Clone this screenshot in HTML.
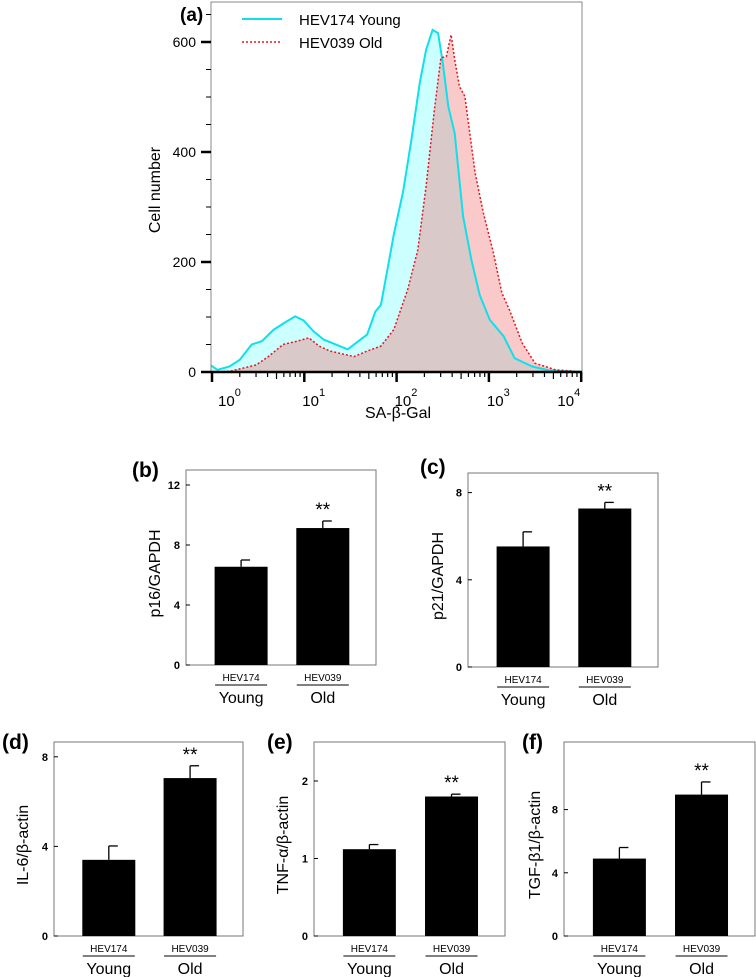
<!DOCTYPE html>
<html><head><meta charset="utf-8">
<style>
html,body{margin:0;padding:0;background:#fff;}
svg{display:block;font-family:"Liberation Sans",Arial,sans-serif;}
</style></head>
<body>
<svg id="fig" width="756" height="977" viewBox="0 0 756 977" xmlns="http://www.w3.org/2000/svg"></svg>
<script>
// ---------- Histogram data (panel a) ----------
const youngLog = [-0.02,0.06,0.19,0.30,0.43,0.54,0.67,0.79,0.90,0.99,1.10,1.21,1.30,1.47,1.57,1.68,1.77,1.83,1.90,1.97,2.07,2.16,2.25,2.32,2.39,2.45,2.50,2.56,2.63,2.72,2.81,2.90,3.01,3.16,3.28,3.47,3.65,4.03];
const youngCount = [13,4,10,22,50,56,77,90,101,94,74,59,53,41,54,68,110,122,186,250,328,422,525,586,622,616,562,483,434,283,204,140,95,65,25,10,3,0];
const oldLog = [0.03,0.19,0.48,0.61,0.77,0.92,1.05,1.16,1.28,1.54,1.68,1.83,1.97,2.12,2.23,2.32,2.41,2.48,2.54,2.59,2.63,2.68,2.74,2.85,2.94,3.05,3.14,3.23,3.36,3.50,3.72,4.03];
const oldCount = [0,1,13,28,50,56,62,47,38,28,38,47,77,150,222,338,477,571,574,613,568,519,501,362,289,216,144,110,53,16,4,0];
const yTicksA = [0,200,400,600];
const xDecades = [0,1,2,3,4];

// ---------- Bar chart data ----------
const groups = ["Young","Old"];
const codes = ["HEV174","HEV039"];
const p16Values = [6.55, 9.13];
const p16Errors = [0.45, 0.47];
const p16Ticks = [0,4,8,12];
const p21Values = [5.53, 7.27];
const p21Errors = [0.67, 0.28];
const p21Ticks = [0,4,8];
const il6Values = [3.4, 7.05];
const il6Errors = [0.62, 0.55];
const il6Ticks = [0,4,8];
const tnfValues = [1.12, 1.8];
const tnfErrors = [0.06, 0.03];
const tnfTicks = [0,1,2];
const tgfValues = [4.9, 8.95];
const tgfErrors = [0.7, 0.8];
const tgfTicks = [0,4,8];

const NS = "http://www.w3.org/2000/svg";
const svg = document.getElementById('fig');
function mk(tag, attrs, parent){
  const e = document.createElementNS(NS, tag);
  for (const k in attrs) e.setAttribute(k, attrs[k]);
  (parent||svg).appendChild(e);
  return e;
}

// ===== Panel (a) =====
const A = {l:211, r:582, t:2, b:372};
const X = l => 212 + l*92.3;
const Y = v => A.b - v*0.55;
const ga = mk('g', {});



function areaPath(lx, cy){
  let d = `M${X(lx[0]).toFixed(1)},${Y(0)}`;
  for (let i=0;i<lx.length;i++) d += ` L${X(lx[i]).toFixed(1)},${Y(cy[i]).toFixed(1)}`;
  d += ` L${X(lx[lx.length-1]).toFixed(1)},${Y(0)} Z`;
  return d;
}
function linePath(lx, cy){
  let d = '';
  for (let i=0;i<lx.length;i++) d += (i?' L':'M') + X(lx[i]).toFixed(1)+','+Y(cy[i]).toFixed(1);
  return d;
}
const clip = mk('clipPath', {id:'clipA'}, ga);
mk('rect', {x:A.l, y:A.t, width:A.r-A.l, height:A.b-A.t}, clip);
const plot = mk('g', {'clip-path':'url(#clipA)'}, ga);
const yf = mk('path', {d:areaPath(youngLog,youngCount), fill:'#ccffff', stroke:'none'}, plot);


const of = mk('path', {d:areaPath(oldLog,oldCount), fill:'rgba(240,100,100,0.35)', stroke:'none'}, plot);


const yl = mk('path', {d:linePath(youngLog,youngCount), fill:'none', stroke:'#10e0ea', 'stroke-width':2}, plot);


const ol = mk('path', {d:linePath(oldLog,oldCount), fill:'none', stroke:'#e8141e', 'stroke-width':1.5, 'stroke-dasharray':'2,2'}, plot);



// frame
mk('rect', {x:A.l, y:A.t, width:A.r-A.l, height:A.b-A.t, fill:'none', stroke:'#888', 'stroke-width':1}, ga);
mk('line', {x1:A.l, y1:A.b, x2:A.r, y2:A.b, stroke:'#000', 'stroke-width':2.5}, ga);
// y ticks
for (let v=0; v<=650; v+=50){
  const major = v%200===0;
  mk('line', {x1:A.l-(major?10:5), y1:Y(v), x2:A.l, y2:Y(v), stroke:'#000', 'stroke-width':major?2.5:1}, ga);
}
yTicksA.forEach(v=>{
  const t = mk('text', {x:A.l-15, y:Y(v)+5, 'text-anchor':'end', 'font-size':14}, ga);
  t.textContent = v;
  
  
});
// x ticks
xDecades.forEach((d,i)=>{
  mk('line', {x1:X(d), y1:A.b, x2:X(d), y2:A.b+10, stroke:'#000', 'stroke-width':2.5}, ga);
  if (i<xDecades.length-1){
    for (let m=2;m<10;m++){
      const xx = X(d+Math.log10(m));
      mk('line', {x1:xx, y1:A.b, x2:xx, y2:A.b+(m===5?7:5), stroke:'#000', 'stroke-width':1.2}, ga);
    }
  }
  let lx = X(d) - 2, anchor='start';
  if (i===0) lx = X(d)+6;
  if (i===xDecades.length-1){ lx = X(d)-1; anchor='end'; }
  const t = mk('text', {x:lx, y:406, 'text-anchor':anchor, 'font-size':15}, ga);
  
  
  const s1 = mk('tspan', {}, t); s1.textContent = '10';
  const s2 = mk('tspan', {dy:-10, 'font-size':11}, t); s2.textContent = d;
});
// labels
let t = mk('text', {x:398, y:418, 'text-anchor':'middle', 'font-size':16}, ga);
t.textContent = 'SA-β-Gal';


t = mk('text', {transform:'translate(160,190) rotate(-90)', 'text-anchor':'middle', 'font-size':16}, ga);
t.textContent = 'Cell number';


t = mk('text', {x:180, y:21, 'font-size':19, 'font-weight':'bold'}, ga);
t.textContent = '(a)';


// legend
const lg = mk('g', {}, ga);


mk('line', {x1:242, y1:19, x2:282, y2:19, stroke:'#10e0ea', 'stroke-width':2}, lg);
t = mk('text', {x:299, y:25, 'font-size':15}, lg); t.textContent = 'HEV174 Young';


mk('line', {x1:242, y1:42, x2:282, y2:42, stroke:'#e8141e', 'stroke-width':1.5, 'stroke-dasharray':'2,2'}, lg);
t = mk('text', {x:299, y:48, 'font-size':15}, lg); t.textContent = 'HEV039 Old';



// ===== Bar panels =====
function barPanel(o){
  const g = mk('g', {});
  
  
  const Yb = v => o.bottom - (v - 0) * o.scale;
  mk('rect', {x:o.left, y:o.top, width:o.right-o.left, height:o.bottom-o.top, fill:'none', stroke:'#777', 'stroke-width':1}, g);
  o.ticks.forEach(v=>{
    mk('line', {x1:o.left, y1:Yb(v), x2:o.left+4, y2:Yb(v), stroke:'#000', 'stroke-width':1}, g);
    const tt = mk('text', {x:o.left-6, y:Yb(v)+4, 'text-anchor':'end', 'font-size':11, 'font-weight':'bold'}, g);
    tt.textContent = v;
    
    
  });
  const w = o.right - o.left;
  o.values.forEach((v,i)=>{
    const cx = o.left + w*(i===0?0.29:0.72);
    const bw = 53;
    const b = mk('rect', {x:cx-bw/2, y:Yb(v), width:bw, height:o.bottom-Yb(v), fill:'#000'}, g);
    
    
    const et = Yb(v+o.errors[i]);
    mk('line', {x1:cx, y1:Yb(v), x2:cx, y2:et, stroke:'#000', 'stroke-width':1.3}, g);
    mk('line', {x1:cx, y1:et, x2:cx+9, y2:et, stroke:'#000', 'stroke-width':1.3}, g);
    const c = mk('text', {x:cx, y:o.bottom+16, 'text-anchor':'middle', 'font-size':10}, g);
    c.textContent = codes[i];
    
    
    mk('line', {x1:cx-26, y1:o.bottom+20, x2:cx+26, y2:o.bottom+20, stroke:'#000', 'stroke-width':1}, g);
    const gl = mk('text', {x:cx, y:o.bottom+38, 'text-anchor':'middle', 'font-size':16}, g);
    gl.textContent = groups[i];
    
    
    if (i===1){
      const s = mk('text', {x:cx, y:et-5, 'text-anchor':'middle', 'font-size':19}, g);
      s.textContent = '**';
      
      
    }
  });
  const yt = mk('text', {transform:`translate(${o.ylx},${(o.top+o.bottom)/2+6}) rotate(-90)`, 'text-anchor':'middle', 'font-size':16}, g);
  yt.textContent = o.ylabel;
  
  
  const pl = mk('text', {x:o.plx, y:o.ply, 'font-size':21, 'font-weight':'bold'}, g);
  pl.textContent = o.letter;
  
  
}
barPanel({name:'p16-bar-chart', left:186, right:376, top:470, bottom:665, scale:15, ticks:p16Ticks, values:p16Values, errors:p16Errors, ylabel:'p16/GAPDH', ylx:160, letter:'(b)', plx:132, ply:477});
barPanel({name:'p21-bar-chart', left:468, right:658, top:473, bottom:667, scale:21.8, ticks:p21Ticks, values:p21Values, errors:p21Errors, ylabel:'p21/GAPDH', ylx:443, letter:'(c)', plx:420, ply:474});
barPanel({name:'il6-bar-chart', left:54, right:243, top:742, bottom:936, scale:22.4, ticks:il6Ticks, values:il6Values, errors:il6Errors, ylabel:'IL-6/β-actin', ylx:28, letter:'(d)', plx:2, ply:749});
barPanel({name:'tnf-bar-chart', left:314, right:505, top:742, bottom:936, scale:77.5, ticks:tnfTicks, values:tnfValues, errors:tnfErrors, ylabel:'TNF-α/β-actin', ylx:288, letter:'(e)', plx:267, ply:749});
barPanel({name:'tgf-bar-chart', left:564, right:755, top:742, bottom:936, scale:15.8, ticks:tgfTicks, values:tgfValues, errors:tgfErrors, ylabel:'TGF-β1/β-actin', ylx:540, letter:'(f)', plx:522, ply:749});
</script>
</body></html>
